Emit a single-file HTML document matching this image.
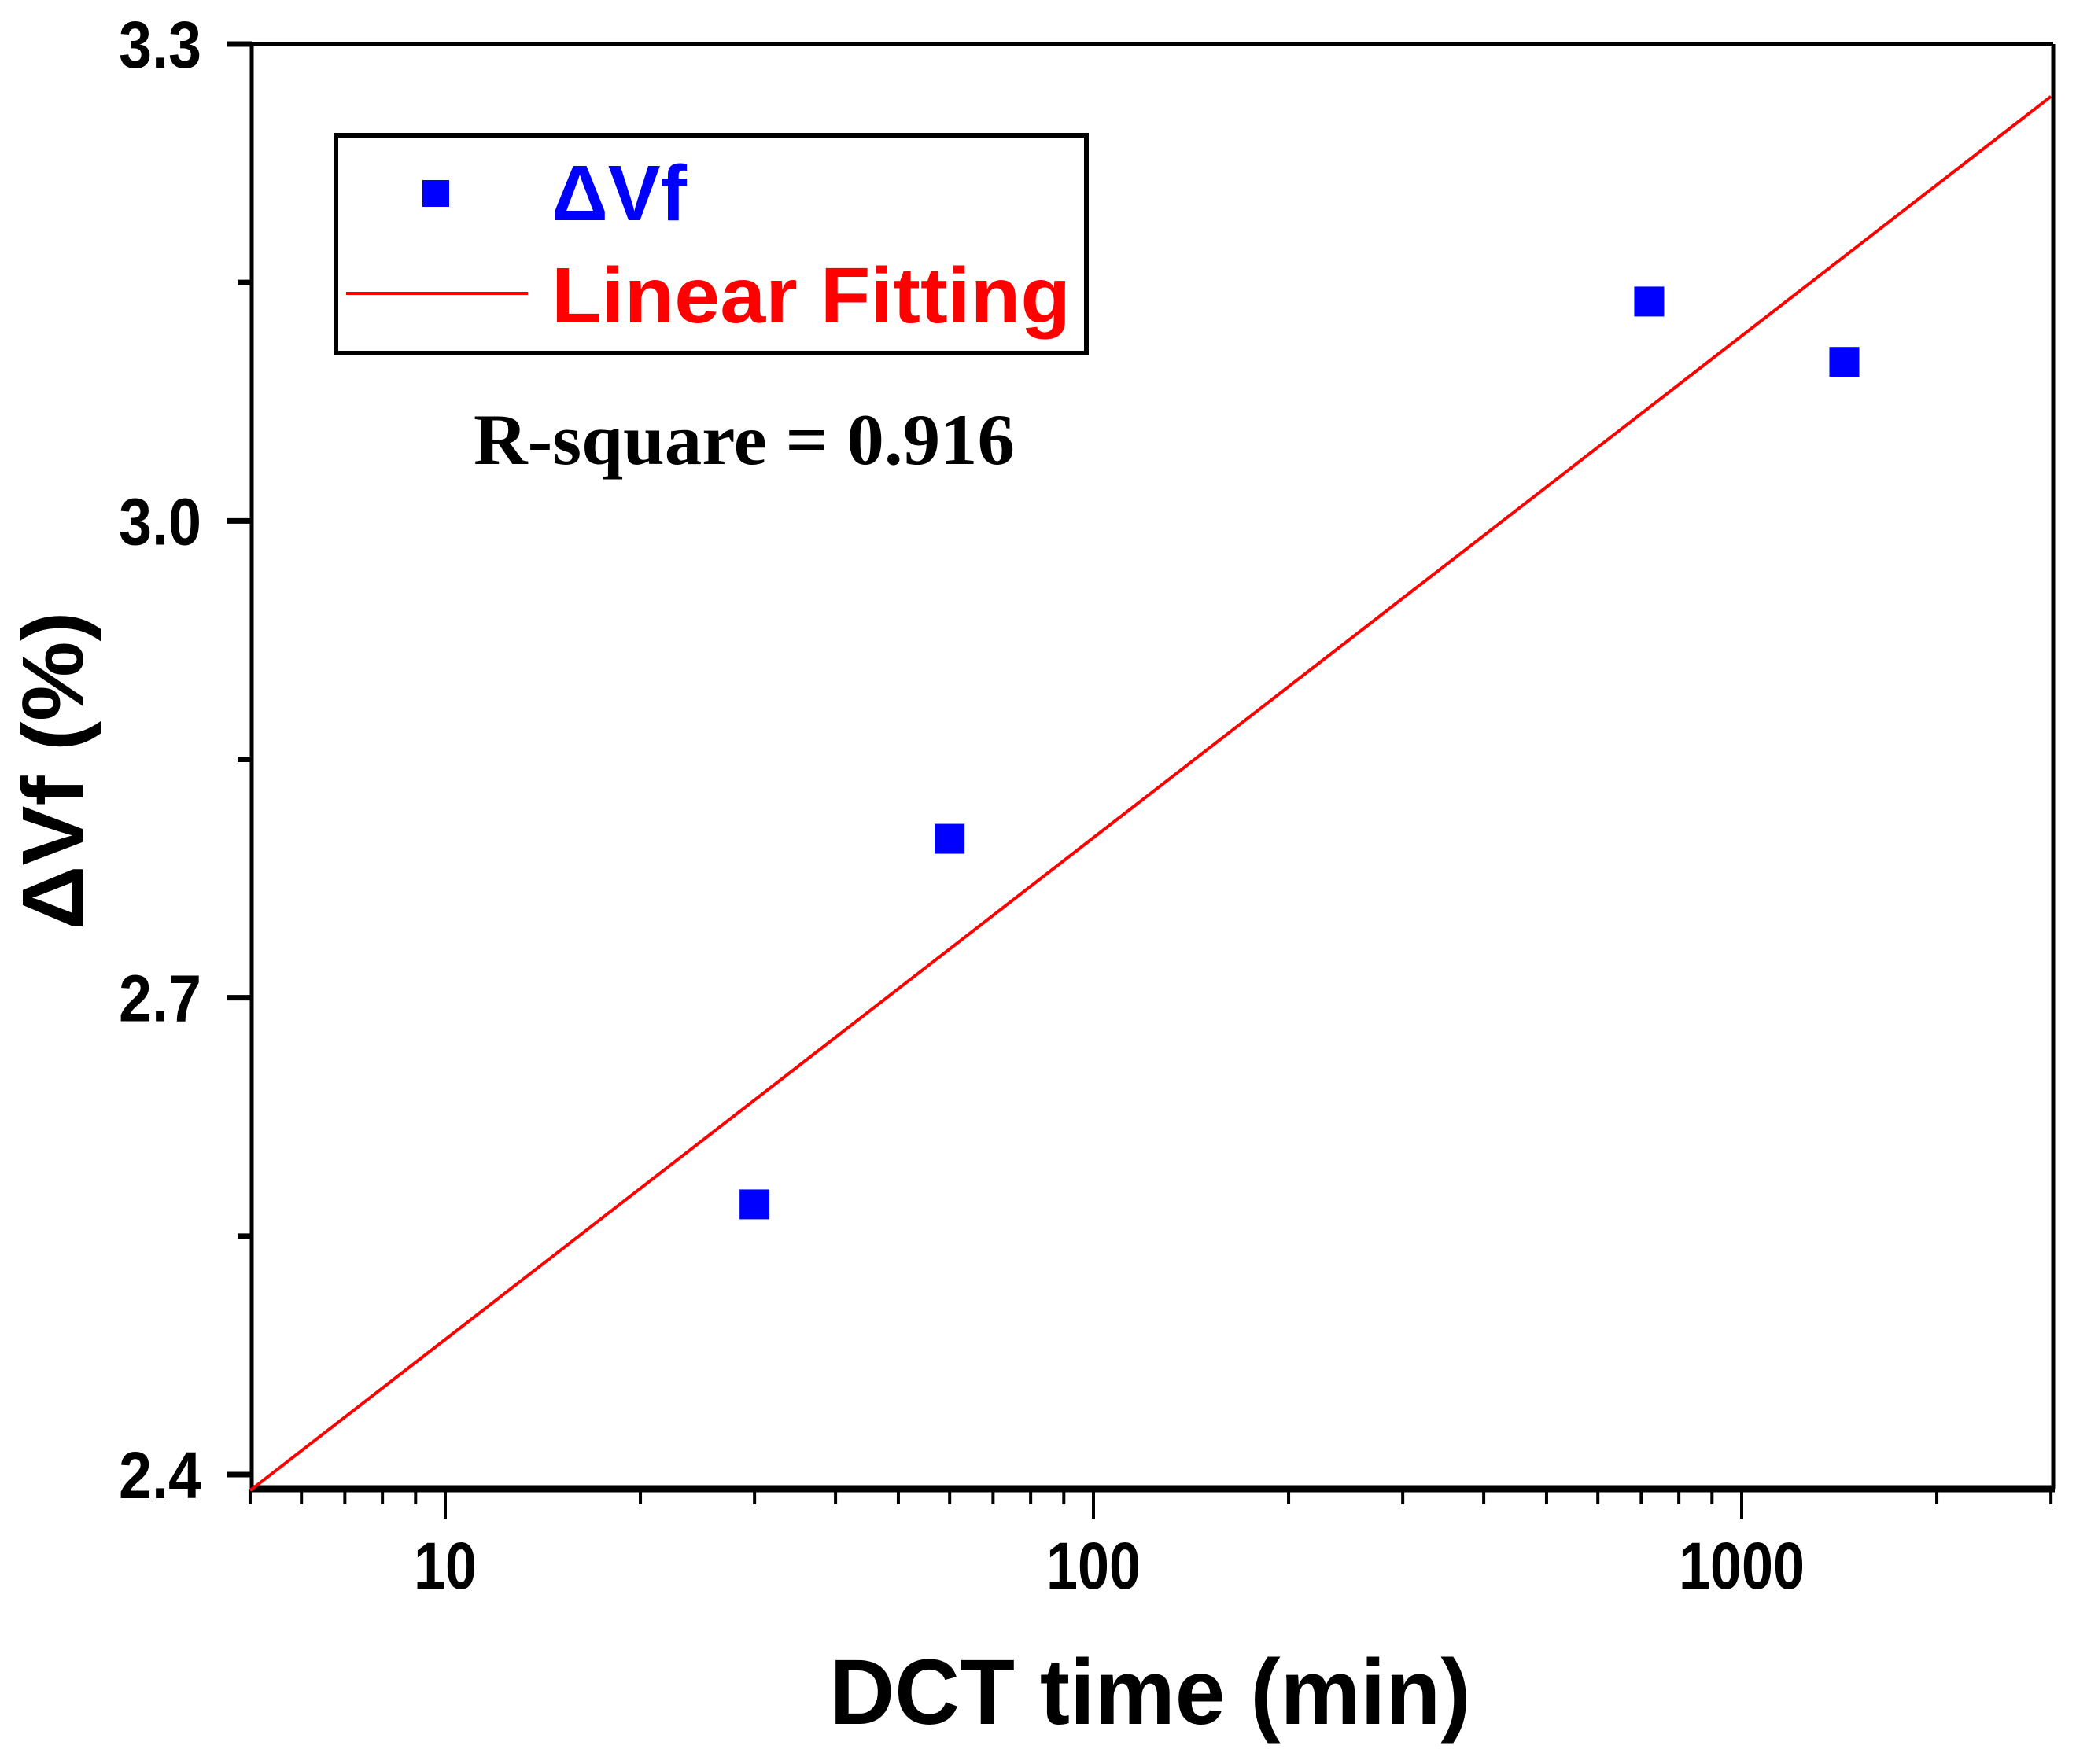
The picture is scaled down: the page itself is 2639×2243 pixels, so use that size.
<!DOCTYPE html>
<html><head><meta charset="utf-8"><style>
html,body{margin:0;padding:0;background:#fff;}
svg{display:block;}
</style></head><body>
<svg id="chart" width="2639" height="2243" viewBox="0 0 2639 2243" xmlns="http://www.w3.org/2000/svg">
<rect width="2639" height="2243" fill="#fff"/>
<g id="grid"></g>
<g id="marks"></g>
<g>
  <rect x="427" y="172" width="954" height="277" fill="none" stroke="#000" stroke-width="6"/>
  <rect x="537" y="229" width="34" height="34" fill="#0000ff"/>
  <text x="701" y="280" font-family="Liberation Sans, sans-serif" font-weight="bold" font-size="100" fill="#0000ff">ΔVf</text>
  <line x1="440" y1="373" x2="671" y2="373" stroke="#ff0000" stroke-width="4"/>
  <text x="701" y="410" font-family="Liberation Sans, sans-serif" font-weight="bold" font-size="100" fill="#ff0000" textLength="660" lengthAdjust="spacingAndGlyphs">Linear Fitting</text>
</g>
<text x="602" y="590" font-family="Liberation Serif, serif" font-weight="bold" font-size="92" fill="#000" textLength="688" lengthAdjust="spacingAndGlyphs">R-square = 0.916</text>
<text x="1462" y="2192" text-anchor="middle" font-family="Liberation Sans, sans-serif" font-weight="bold" font-size="118" fill="#000" textLength="815" lengthAdjust="spacingAndGlyphs">DCT time (min)</text>
<text transform="translate(105,980) rotate(-90)" text-anchor="middle" font-family="Liberation Sans, sans-serif" font-weight="bold" font-size="110" fill="#000" textLength="405" lengthAdjust="spacingAndGlyphs">ΔVf (%)</text>
</svg>
<script>
const xTicks = [10, 100, 1000];
const yTicks = [2.4, 2.7, 3.0, 3.3];
const yTickLabels = ["2.4", "2.7", "3.0", "3.3"];
const pointX = [30, 60, 720, 1440];
const pointY = [2.57, 2.80, 3.138, 3.10];
const fitX = [5, 3000];
const fitY = [2.39, 3.267];

const NS = "http://www.w3.org/2000/svg";
const L = 320, R = 2610, T = 56, B = 1893;
const xmin = 5, xmax = 3000;
function sx(v){ return 566 + (Math.log10(v) - 1) * 824; }
function sy(v){ return 56 + (3.3 - v) / 0.9 * (1875 - 56); }
function mk(tag, attrs, parent){
  const e = document.createElementNS(NS, tag);
  for (const k in attrs) e.setAttribute(k, attrs[k]);
  parent.appendChild(e);
  return e;
}
const g = document.getElementById('grid');
const m = document.getElementById('marks');

let f = mk('line', {x1:L, y1:T, x2:R, y2:T, stroke:'#000', 'stroke-width':6}, g);


f = mk('line', {x1:L, y1:T, x2:L, y2:B, stroke:'#000', 'stroke-width':5}, g);


f = mk('line', {x1:R, y1:T, x2:R, y2:B, stroke:'#000', 'stroke-width':5}, g);


f = mk('line', {x1:L-2, y1:B, x2:R+2, y2:B, stroke:'#000', 'stroke-width':9}, g);



for (let d = 1; d <= 1000; d *= 10) {
  for (let k = 1; k <= 9; k++) {
    const v = d * k;
    if (v < xmin || v > xmax) continue;
    const major = xTicks.includes(v);
    const t = mk('line', {x1:sx(v), y1:B, x2:sx(v), y2:B + (major ? 38 : 20), stroke:'#000', 'stroke-width':4}, g);
    
    
  }
}
xTicks.forEach(v => {
  const s = String(v);
  const t = mk('text', {x:sx(v), y:2020, 'text-anchor':'middle', 'font-family':'Liberation Sans, sans-serif', 'font-weight':'bold', 'font-size':84, fill:'#000', textLength:s.length*40, lengthAdjust:'spacingAndGlyphs'}, g);
  t.textContent = s;
  
  
});
yTicks.forEach((v, i) => {
  const t = mk('line', {x1:L - 32, y1:sy(v), x2:L, y2:sy(v), stroke:'#000', 'stroke-width':7}, g);
  
  
  const lb = mk('text', {x:256, y:sy(v) + 30, 'text-anchor':'end', 'font-family':'Liberation Sans, sans-serif', 'font-weight':'bold', 'font-size':84, fill:'#000', textLength:105, lengthAdjust:'spacingAndGlyphs'}, g);
  lb.textContent = yTickLabels[i];
  
  
  if (i < yTicks.length - 1) {
    const mv = (v + yTicks[i+1]) / 2;
    const mt = mk('line', {x1:L - 18, y1:sy(mv), x2:L, y2:sy(mv), stroke:'#000', 'stroke-width':7}, g);
    
    
  }
});

const fl = mk('line', {x1:sx(fitX[0]), y1:sy(fitY[0]), x2:sx(fitX[1]), y2:sy(fitY[1]), stroke:'#ff0000', 'stroke-width':4}, m);



pointX.forEach((v, i) => {
  const s = 38;
  const p = mk('rect', {x:sx(v) - s/2, y:sy(pointY[i]) - s/2, width:s, height:s, fill:'#0000ff'}, m);
  
  
});
</script>
</body></html>
